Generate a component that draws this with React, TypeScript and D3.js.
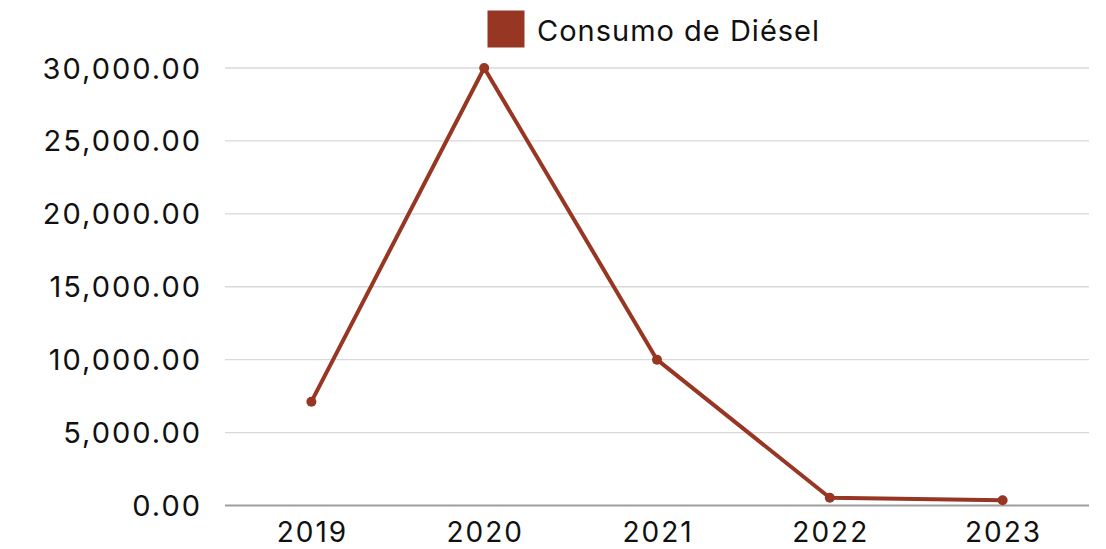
import React from "react";
import * as d3 from "d3";

const years = ["2019", "2020", "2021", "2022", "2023"];
const diesel = [7120, 30000, 10000, 535, 355];
const yTicks = [0, 5000, 10000, 15000, 20000, 25000, 30000];
const seriesName = "Consumo de Diésel";

const W = 1106;
const H = 549;
const margin = { left: 225, right: 17, top: 68, bottom: 43 };
const color = "#973622";
const font = "Inter, 'DejaVu Sans', sans-serif";

export default function App() {
  const x = d3
    .scaleBand<string>()
    .domain(years)
    .range([margin.left, W - margin.right]);
  const y = d3
    .scaleLinear()
    .domain([0, 30000])
    .range([H - margin.bottom - 0.5, margin.top]);
  const fmt = d3.format(",.2f");
  const line = d3
    .line<number>()
    .x((_, i) => (x(years[i]) as number) + x.bandwidth() / 2)
    .y((d) => y(d));

  return (
    <svg
      width={W}
      height={H}
      style={{ position: "absolute", left: 0, top: 0, background: "#fff" }}
      fontFamily={font}
    >
      {yTicks.map((t) => (
        <g key={t}>
          <line
            x1={margin.left}
            x2={W - margin.right}
            y1={y(t)}
            y2={y(t)}
            stroke={t === 0 ? "#9e9e9e" : "#d9d9d9"}
            strokeWidth={t === 0 ? 2 : 1.3}
          />
          <text
            x={202}
            y={y(t)}
            textAnchor="end"
            dominantBaseline="central"
            fontSize={29}
            letterSpacing={2}
            fill="#111"
          >
            {fmt(t)}
          </text>
        </g>
      ))}
      {years.map((yr) => (
        <text
          key={yr}
          x={(x(yr) as number) + x.bandwidth() / 2 + 1}
          y={532}
          textAnchor="middle"
          dominantBaseline="central"
          fontSize={28}
          letterSpacing={2}
          fill="#111"
        >
          {yr}
        </text>
      ))}
      <path
        d={line(diesel) || ""}
        fill="none"
        stroke={color}
        strokeWidth={4}
        strokeLinejoin="round"
      />
      {diesel.map((v, i) => (
        <circle
          key={i}
          cx={(x(years[i]) as number) + x.bandwidth() / 2}
          cy={y(v)}
          r={5}
          fill={color}
        />
      ))}
      <rect x={487.5} y={10.5} width={37} height={37} fill={color} />
      <text
        x={537}
        y={30}
        dominantBaseline="central"
        fontSize={29}
        letterSpacing={1}
        fill="#111"
      >
        {seriesName}
      </text>
    </svg>
  );
}
